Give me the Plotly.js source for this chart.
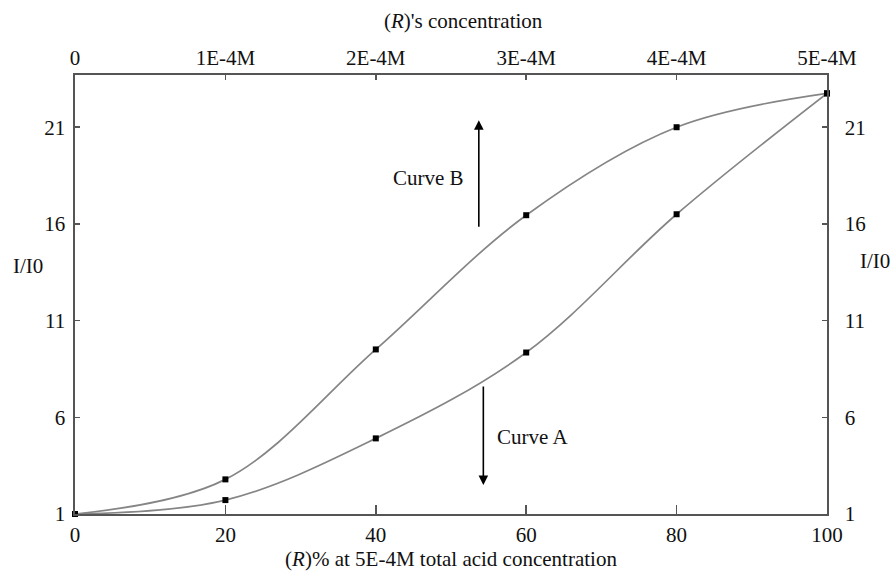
<!DOCTYPE html>
<html>
<head>
<meta charset="utf-8">
<script src="https://cdn.plot.ly/plotly-3.0.1.min.js"></script>
<style>
  html, body { margin: 0; padding: 0; background: #fff; }
  #chart { width: 891px; height: 573px; }
</style>
</head>
<body>
<div id="chart"></div>
<script>
// (R)% of total acid, bottom axis
const percentR = [0, 20, 40, 60, 80, 100];
// Relative fluorescence intensity I/I0
const curveA = [1, 1.72, 4.91, 9.35, 16.5, 22.75];
const curveB = [1, 2.79, 9.51, 16.45, 21.0, 22.75];
// Tick labels
const bottomTicks = [0, 20, 40, 60, 80, 100];
const topTickText = ['0', '1E-4M', '2E-4M', '3E-4M', '4E-4M', '5E-4M'];
const yTicks = [1, 6, 11, 16, 21];

const serif = '"Liberation Serif", serif';
const frameColor = '#555555';
const curveColor = '#858585';

function curveTrace(values, name) {
  return {
    x: percentR,
    y: values,
    name: name,
    type: 'scatter',
    mode: 'lines+markers',
    line: { color: curveColor, width: 1.7, shape: 'spline', smoothing: 1 },
    marker: { symbol: 'square', size: 6, color: '#000' },
    hoverinfo: 'x+y',
    cliponaxis: false
  };
}

const data = [curveTrace(curveA, 'Curve A'), curveTrace(curveB, 'Curve B')];

const yRange = [1, 23.7];
const axisFont = { family: serif, size: 21, color: '#111' };

function frameAxis(extra) {
  return Object.assign({
    ticks: 'inside',
    ticklen: 5,
    tickwidth: 1.5,
    tickcolor: frameColor,
    showline: true,
    linecolor: frameColor,
    linewidth: 1.6,
    showgrid: false,
    zeroline: false,
    tickfont: axisFont
  }, extra);
}

const layout = {
  width: 891,
  height: 573,
  margin: { l: 75, r: 64, t: 75, b: 59 },
  paper_bgcolor: '#fff',
  plot_bgcolor: '#fff',
  showlegend: false,
  font: axisFont,
  xaxis: frameAxis({
    range: [0, 100],
    tickvals: bottomTicks,
    ticklen: 9,
    ticklabelstandoff: 1,
    title: { text: '(<i>R</i>)% at 5E-4M total acid concentration', font: axisFont, standoff: 2 }
  }),
  xaxis2: frameAxis({
    overlaying: 'x',
    side: 'top',
    range: [0, 100],
    tickvals: bottomTicks,
    ticktext: topTickText,
    ticklabelstandoff: 0
  }),
  yaxis: frameAxis({
    range: yRange,
    tickvals: yTicks,
    ticklabelstandoff: 4
  }),
  yaxis2: frameAxis({
    overlaying: 'y',
    side: 'right',
    range: yRange,
    tickvals: yTicks,
    ticklabelstandoff: 12
  }),
  annotations: [
    // Top axis title
    { xref: 'paper', yref: 'paper', x: 0.517, y: 1.123, text: "(<i>R</i>)'s concentration",
      showarrow: false, xanchor: 'center', yanchor: 'middle', font: axisFont },
    // Vertical axis labels on both sides
    { xref: 'paper', yref: 'y', x: -0.063, y: 13.8, text: 'I/I0', showarrow: false,
      xanchor: 'center', font: axisFont },
    { xref: 'paper', yref: 'y', x: 1.041, y: 14.1, text: 'I/I0', showarrow: false,
      xanchor: 'left', font: axisFont },
    // Curve B: arrow pointing up
    { xref: 'x', yref: 'y', axref: 'x', ayref: 'y', x: 53.7, y: 21.36, ax: 53.7, ay: 15.78,
      text: '', showarrow: true, arrowhead: 2, arrowsize: 1.2, arrowwidth: 1.6, arrowcolor: '#000' },
    { xref: 'x', yref: 'y', x: 52.0, y: 18.4, text: 'Curve B', showarrow: false,
      xanchor: 'right', font: axisFont },
    // Curve A: arrow pointing down
    { xref: 'x', yref: 'y', axref: 'x', ayref: 'y', x: 54.3, y: 2.5, ax: 54.3, ay: 7.67,
      text: '', showarrow: true, arrowhead: 2, arrowsize: 1.2, arrowwidth: 1.6, arrowcolor: '#000' },
    { xref: 'x', yref: 'y', x: 55.9, y: 4.98, text: 'Curve A', showarrow: false,
      xanchor: 'left', font: axisFont }
  ]
};

// Invisible traces so the secondary axes are drawn
data.push({ x: [0], y: [1], xaxis: 'x2', yaxis: 'y', mode: 'markers',
  marker: { opacity: 0 }, hoverinfo: 'skip', showlegend: false });
data.push({ x: [0], y: [1], xaxis: 'x', yaxis: 'y2', mode: 'markers',
  marker: { opacity: 0 }, hoverinfo: 'skip', showlegend: false });

Plotly.newPlot('chart', data, layout, { staticPlot: true });
</script>
</body>
</html>
